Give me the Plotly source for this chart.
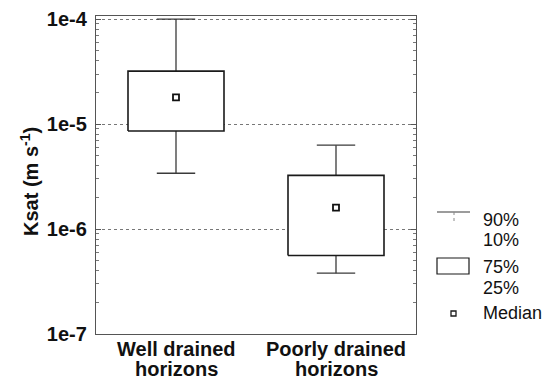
import plotly.graph_objects as go

# ---- data ----
categories = [["Well drained", "horizons"], ["Poorly drained", "horizons"]]
cat_pos = [1, 3]
p10 = [3.4e-6, 3.8e-7]
p25 = [8.6e-6, 5.6e-7]
median = [1.8e-5, 1.6e-6]
p75 = [3.2e-5, 3.25e-6]
p90 = [1.0e-4, 6.3e-6]
ytick_vals = [1e-7, 1e-6, 1e-5, 1e-4]
ytick_text = ["1e-7", "1e-6", "1e-5", "1e-4"]
legend_labels = ["90%", "10%", "75%", "25%", "Median"]

BOX_HALF = 0.6
CAP_HALF = 0.24
FONT = "Liberation Sans, Arial, sans-serif"

fig = go.Figure()
for i, xc in enumerate(cat_pos):
    # whiskers
    fig.add_trace(go.Scatter(
        x=[xc, xc, None, xc - CAP_HALF, xc + CAP_HALF, None,
           xc, xc, None, xc - CAP_HALF, xc + CAP_HALF],
        y=[p75[i], p90[i], None, p90[i], p90[i], None,
           p25[i], p10[i], None, p10[i], p10[i]],
        mode="lines", line=dict(color="#3a3a3a", width=1.3),
        showlegend=False, hoverinfo="skip"))
    # box
    fig.add_trace(go.Scatter(
        x=[xc - BOX_HALF, xc + BOX_HALF, xc + BOX_HALF, xc - BOX_HALF, xc - BOX_HALF],
        y=[p25[i], p25[i], p75[i], p75[i], p25[i]],
        mode="lines", fill="toself", fillcolor="white",
        line=dict(color="#1a1a1a", width=1.6),
        showlegend=False, hoverinfo="skip"))
    # median marker
    fig.add_trace(go.Scatter(
        x=[xc], y=[median[i]], mode="markers",
        marker=dict(symbol="square-open", size=6, color="#111111",
                    line=dict(width=1.8)),
        showlegend=False, hoverinfo="skip"))

# ---- legend drawn by hand ----
L, R, B, T = 96, 416, 334, 16
def px(x):
    return (x - L) / (R - L)
def py(y):
    return (B - y) / (B - T)

shapes = [
    dict(type="line", xref="paper", yref="paper", x0=px(437), x1=px(470),
         y0=py(212), y1=py(212), line=dict(color="#3a3a3a", width=1.2)),
    dict(type="line", xref="paper", yref="paper", x0=px(454), x1=px(454),
         y0=py(212), y1=py(224), line=dict(color="#888888", width=1, dash="dot")),
    dict(type="rect", xref="paper", yref="paper", x0=px(437), x1=px(469),
         y0=py(274), y1=py(258), line=dict(color="#1a1a1a", width=1.2),
         fillcolor="white"),
    dict(type="rect", xref="paper", yref="paper", x0=px(451), x1=px(456),
         y0=py(316), y1=py(311), line=dict(color="#1a1a1a", width=1.3),
         fillcolor="white"),
]
legend_y = [220, 240, 267, 288, 313]
annotations = []
for lab, yy in zip(legend_labels, legend_y):
    annotations.append(dict(
        text=lab, xref="paper", yref="paper", x=px(481), y=py(yy),
        xanchor="left", yanchor="middle", showarrow=False,
        font=dict(family=FONT, size=18, color="#111111")))

# category labels (two lines, tight spacing as in the reference)
for xc, lines in zip(cat_pos, categories):
    for line_txt, yy in zip(lines, [349, 369]):
        annotations.append(dict(
            text="<b>" + line_txt + "</b>", xref="x", yref="paper", x=xc, y=py(yy),
            xanchor="center", yanchor="middle", showarrow=False,
            font=dict(family=FONT, size=20, color="#111111")))

# y-axis title
annotations.append(dict(
    text="<b>Ksat (m s<sup>-1</sup>)</b>", xref="paper", yref="paper",
    x=px(29), y=py(182), textangle=-90, xanchor="center", yanchor="middle",
    showarrow=False, font=dict(family=FONT, size=20, color="#111111")))

fig.update_layout(
    width=544, height=382,
    margin=dict(l=96, r=128, t=16, b=48),
    paper_bgcolor="white", plot_bgcolor="white",
    shapes=shapes, annotations=annotations,
    showlegend=False,
    xaxis=dict(
        range=[0, 4], showticklabels=False,
        showgrid=False, zeroline=False, ticks="", automargin=False,
        showline=True, linecolor="#555555", linewidth=1.2, mirror=True,
    ),
    yaxis=dict(
        type="log", range=[-7, -3.97], automargin=False,
        tickvals=ytick_vals, ticktext=ytick_text,
        showgrid=True, griddash="dot", gridcolor="#777777", gridwidth=1,
        showline=True, linecolor="#555555", linewidth=1.2, mirror="allticks",
        ticks="inside", ticklen=5, tickcolor="#555555",
        minor=dict(ticks="inside", ticklen=3, tickcolor="#777777", dtick="D1",
                   showgrid=False),
        tickfont=dict(family=FONT, size=20, color="#111111", weight="bold"),
        ticklabelstandoff=4,
    ),
)
fig.write_html("out.html")
